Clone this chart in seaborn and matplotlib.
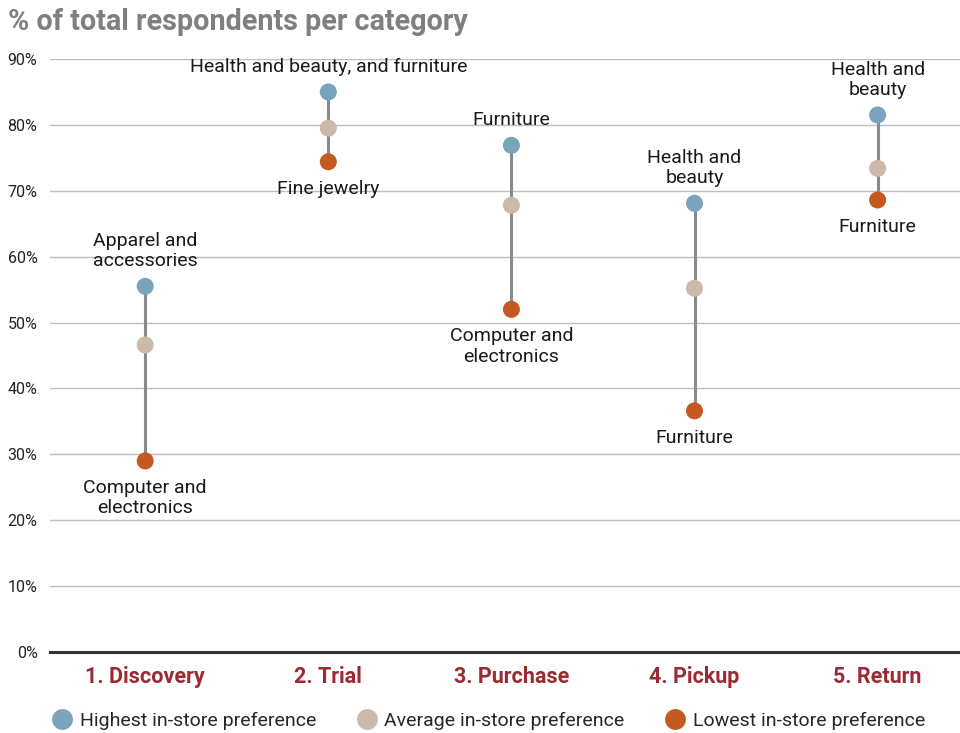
import matplotlib
matplotlib.use("Agg")
import matplotlib.pyplot as plt
import seaborn as sns
import pandas as pd
from matplotlib.lines import Line2D

stages = ["1. Discovery", "2. Trial", "3. Purchase", "4. Pickup", "5. Return"]
highest = [55.5, 85.0, 76.9, 68.1, 81.5]
average = [46.6, 79.5, 67.8, 55.2, 73.4]
lowest = [29.0, 74.4, 52.0, 36.6, 68.6]
high_labels = ["Apparel and\naccessories", "Health and beauty, and furniture", "Furniture",
               "Health and\nbeauty", "Health and\nbeauty"]
low_labels = ["Computer and\nelectronics", "Fine jewelry", "Computer and\nelectronics",
              "Furniture", "Furniture"]
series_names = ["Highest in-store preference", "Average in-store preference", "Lowest in-store preference"]
yticks = [0, 10, 20, 30, 40, 50, 60, 70, 80, 90]

colors = {"Highest in-store preference": "#7ba3bb",
          "Average in-store preference": "#cbb9aa",
          "Lowest in-store preference": "#c45a22"}

sns.set_theme(style="white")
plt.rcParams["font.family"] = ["Roboto", "DejaVu Sans"]

rows = []
for i, s in enumerate(stages):
    for name, vals in zip(series_names, [highest, average, lowest]):
        rows.append({"pos": i, "stage": s, "series": name, "value": vals[i]})
df = pd.DataFrame(rows)

fig = plt.figure(figsize=(9.6, 7.33), dpi=100)
ax = fig.add_axes([50/960, 1 - 652/733, 910/960, (652-59)/733])

ax.vlines(range(len(stages)), lowest, highest, color="#8a8a8c", lw=2.2, zorder=2)
sns.scatterplot(data=df, x="pos", y="value", hue="series", palette=colors,
                s=150, edgecolor="none", legend=False, ax=ax, zorder=3)

for i in range(len(stages)):
    ax.annotate(high_labels[i], (i, highest[i]), xytext=(0, 11.5), textcoords="offset points",
                ha="center", va="bottom", fontsize=14, color="#1a1a1a", linespacing=1.15)
    ax.annotate(low_labels[i], (i, lowest[i]), xytext=(0, -13), textcoords="offset points",
                ha="center", va="top", fontsize=14, color="#1a1a1a", linespacing=1.15)

ax.set_ylim(0, 90)
ax.set_xlim(-0.52, 4.45)
ax.set_yticks(yticks)
ax.set_yticklabels([f"{v}%" for v in yticks])
ax.set_xticks(range(len(stages)))
ax.set_xticklabels(stages, fontsize=15.5, fontweight="bold", color="#9b2a33")
ax.tick_params(axis="y", length=0, pad=9, labelsize=11.5, labelcolor="#222222")
ax.tick_params(axis="x", length=0, pad=10)
ax.set_xlabel("")
ax.set_ylabel("")
for y in yticks[1:]:
    ax.axhline(y, color="#bdbdbd", lw=1, zorder=1)
for sp in ["top", "right", "left"]:
    ax.spines[sp].set_visible(False)
ax.spines["bottom"].set_color("#333333")
ax.spines["bottom"].set_linewidth(2.2)

fig.text(8/960, 1 - 22/733, "% of total respondents per category", fontsize=20.7,
         fontweight="bold", color="#7f7f80", va="center", ha="left")

handles = [Line2D([0], [0], marker="o", color="none", markerfacecolor=colors[n],
                  markeredgecolor="none", markersize=15) for n in series_names]
fig.legend(handles, series_names, loc="center", bbox_to_anchor=(0.508, 1 - 721/733),
           ncol=3, frameon=False, fontsize=14, handletextpad=0.3, columnspacing=2.0,
           handlelength=1.2)

fig.savefig("out.png", dpi=100)
